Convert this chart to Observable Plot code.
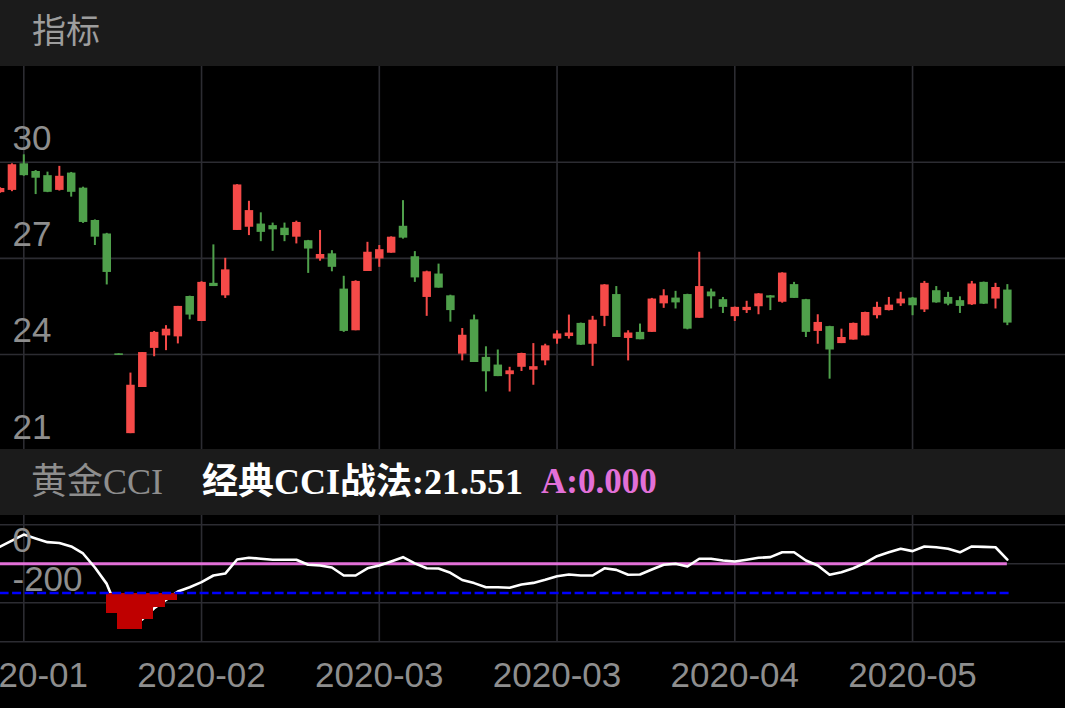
<!DOCTYPE html>
<html>
<head>
<meta charset="utf-8">
<script src="https://cdn.jsdelivr.net/npm/d3@7"></script>
<script src="https://cdn.jsdelivr.net/npm/@observablehq/plot@0.6"></script>
<style>
  html, body { margin: 0; padding: 0; background: #000; }
  #wrap { position: relative; width: 1065px; height: 708px; overflow: hidden; background: #000; }
  .hdr { position: absolute; left: 0; width: 1065px; height: 66px; background: #1b1b1b; z-index: 2; }
  .hdr span { position: absolute; white-space: nowrap; }
  #t1 { left: 32px; top: -4px; line-height: 66px; font-size: 34px; color: #9d9d9d; font-family: "Noto Sans CJK SC", sans-serif; }
  .h2t { top: 0; line-height: 66px; font-size: 35px; font-family: "Liberation Serif", "Noto Sans CJK SC", serif; }
  #main { position: absolute; top: 66px; left: 0; z-index: 1; }
  #cci { position: absolute; top: 515px; left: 0; z-index: 1; }
</style>
</head>
<body>
<div id="wrap">
  <div class="hdr" style="top:0"><span id="t1">指标</span></div>
  <div id="main"></div>
  <div class="hdr" style="top:449px">
    <span class="h2t" style="left:31px;color:#8e8e8e;font-size:36px;">黄金CCI</span>
    <span class="h2t" id="cciLabel" style="left:202px;color:#ffffff;font-weight:bold;font-size:36px;"></span>
    <span class="h2t" id="aLabel" style="left:541px;color:#e270d8;font-weight:bold;"></span>
  </div>
  <div id="cci"></div>
</div>
<script>
// ---- data ----
const open = [
  29.05,29.12,29.95,29.71,29.58,29.12,29.66,29.19,28.18,27.76,
  24.02,21.53,22.97,24.19,24.58,24.55,25.81,25.03,26.22,25.83,
  27.87,27.97,28.07,28.02,27.94,27.66,27.55,26.98,27.14,26.04,
  24.74,26.59,26.98,27.16,28.00,27.05,25.78,26.51,25.83,24.01,
  25.08,23.91,23.67,23.37,23.60,23.51,23.80,24.48,24.56,24.97,
  24.32,25.19,25.87,24.50,24.69,24.69,25.58,25.76,25.87,25.13,
  25.95,25.71,25.18,25.37,25.49,25.83,25.63,26.18,25.71,24.72,
  24.87,24.34,24.45,24.58,25.21,25.37,25.58,25.76,25.39,25.99,
  25.78,25.68,25.55,26.25,25.73,26.01];
const close = [
  29.18,29.92,29.58,29.50,29.06,29.56,29.06,28.12,27.66,26.56,
  23.97,23.04,24.06,24.69,24.79,25.50,25.23,26.25,26.12,26.64,
  29.29,28.49,27.81,27.89,27.71,28.12,27.29,27.12,26.72,24.72,
  26.28,27.19,27.27,27.66,27.63,26.39,26.58,26.07,25.37,24.60,
  23.75,23.46,23.31,23.49,24.03,23.62,24.27,24.64,24.67,24.29,
  25.07,26.17,24.53,24.67,24.46,25.73,25.83,25.61,24.79,26.12,
  25.80,25.47,25.47,25.47,25.89,25.76,26.54,25.75,24.69,25.00,
  24.14,24.53,24.97,25.31,25.47,25.54,25.73,25.52,26.22,25.61,
  25.57,25.50,26.20,25.57,26.09,24.98];
const high = [
  29.20,29.95,30.23,29.74,29.69,29.87,29.68,29.22,28.20,27.78,
  24.02,23.42,24.06,24.72,24.90,25.50,25.82,26.27,27.42,27.00,
  29.30,28.78,28.42,28.10,28.10,28.16,27.56,27.87,27.24,26.44,
  26.30,27.50,27.40,27.67,28.80,27.21,26.60,26.82,25.85,24.81,
  25.23,24.24,24.14,23.60,24.04,24.34,24.32,24.74,25.23,24.98,
  25.19,26.18,26.12,24.74,24.95,25.75,26.02,25.97,25.88,27.19,
  26.04,25.78,25.48,25.66,25.90,25.84,26.55,26.25,25.72,25.24,
  24.88,24.79,24.98,25.32,25.63,25.78,25.94,25.78,26.28,26.12,
  25.94,25.80,26.28,26.26,26.22,26.18];
const low = [
  29.03,29.08,29.56,28.99,29.05,29.10,28.91,28.09,27.40,26.17,
  23.97,21.53,22.97,23.93,24.12,24.33,25.08,25.03,26.12,25.75,
  27.87,27.71,27.52,27.22,27.52,27.45,26.53,26.91,26.58,24.69,
  24.74,26.59,26.72,27.16,27.60,26.25,25.19,26.07,25.01,23.80,
  23.75,22.83,23.31,22.83,23.47,23.04,23.65,24.32,24.48,24.28,
  23.63,24.87,24.53,23.80,24.46,24.69,25.44,25.42,24.77,25.13,
  25.42,25.28,25.03,25.28,25.24,25.37,25.60,25.75,24.53,24.32,
  23.23,24.34,24.45,24.58,25.11,25.36,25.50,25.21,25.31,25.60,
  25.52,25.28,25.53,25.56,25.42,24.90];
// 经典CCI战法 line
const cci = [
  88,119,150,130,111,107,89,53,-19,-103,
  -250,-320,-285,-228,-185,-142,-120,-94,-60,-50,
  22,31,26,21,21,21,-5,-9,-19,-60,
  -60,-23,-9,12,34,2,-23,-24,-46,-83,
  -99,-120,-120,-123,-106,-98,-82,-64,-55,-60,
  -60,-23,-31,-56,-55,-29,-5,0,-14,26,
  26,17,12,21,31,34,59,59,17,-9,
  -56,-43,-23,5,39,59,77,65,89,85,
  77,59,89,87,85,21.551];
const aValue = 0;            // A line
const cciThreshold = -150;   // dashed blue level
// red sticks below the threshold (candle index, value)
const barIdx = [10, 11, 12, 13, 14, 15];
const barVal = [-256, -337, -337, -287, -226, -188];
// ticks
const priceTicks = [21, 24, 27, 30];
const cciGrid = [200, 0, -200, -400];
const cciTicks = [0, -200];
const xTickIdx = [2, 17, 32, 47, 62, 77];
const xTickLabels = ["2020-01", "2020-02", "2020-03", "2020-03", "2020-04", "2020-05"];

// ---- styling ----
const RED = "#f54a48", GREEN = "#4fa04b", GRID = "#2c2c32", PINK = "#e270d8";
const xDomain = [0.034, 89.907];
const n = open.length;
const candles = open.map((o, i) => ({i, open: o, high: high[i], low: low[i], close: close[i]}));
const col = d => d.close >= d.open ? RED : GREEN;
const baseStyle = {background: "transparent", color: "#8e8e8e", fontFamily: "'Liberation Sans', Arial, sans-serif"};
const plain = d => String(d);

document.getElementById("cciLabel").textContent = "经典CCI战法:" + cci[n - 1].toFixed(3);
document.getElementById("aLabel").textContent = "A:" + aValue.toFixed(3);

const main = Plot.plot({
  width: 1065, height: 385,
  marginTop: 0, marginRight: 0, marginBottom: 0, marginLeft: 0,
  x: {domain: xDomain, axis: null},
  y: {domain: [20.973, 32.986], axis: null},
  style: baseStyle,
  marks: [
    Plot.ruleY(priceTicks, {stroke: GRID, strokeWidth: 1.6}),
    Plot.ruleX(xTickIdx, {stroke: GRID, strokeWidth: 1.6}),
    Plot.ruleX(candles, {x: "i", y1: "low", y2: "high", stroke: col, strokeWidth: 2}),
    Plot.ruleX(candles, {x: "i", y1: "open", y2: "close", stroke: col, strokeWidth: 8.5}),
    Plot.axisY(priceTicks, {anchor: "left", tickSize: 0, tickPadding: 0, dx: 12, dy: -12,
      textAnchor: "start", lineAnchor: "bottom", fontSize: 35, label: null, tickFormat: plain})
  ]
});
document.getElementById("main").appendChild(main);

const cciPlot = Plot.plot({
  width: 1065, height: 193,
  marginTop: 0, marginRight: 0, marginBottom: 66.7, marginLeft: 0,
  x: {domain: xDomain, axis: null},
  y: {domain: [-400, 247.7], axis: null},
  style: baseStyle,
  marks: [
    Plot.ruleY(cciGrid, {stroke: GRID, strokeWidth: 1.6}),
    Plot.ruleX(xTickIdx, {stroke: GRID, strokeWidth: 1.6}),
    Plot.ruleY([aValue], {x1: () => 0, x2: () => n - 1, stroke: PINK, strokeWidth: 3}),
    Plot.lineY(cci, {x: (d, i) => i, y: d => d, stroke: "#ffffff", strokeWidth: 2.6, strokeLinejoin: "round"}),
    Plot.rect(barIdx, {x1: d => d - 1.06, x2: d => d - 0.02, y1: () => cciThreshold, y2: (d, j) => barVal[j],
      fill: "#bf0000", shapeRendering: "crispEdges"}),
    Plot.ruleY([cciThreshold], {x1: () => 0, x2: () => n - 0.6, stroke: "#0000ff", strokeWidth: 2.5, strokeDasharray: "9,3.5"}),
    Plot.axisY(cciTicks, {anchor: "left", tickSize: 0, tickPadding: 0, dx: 12, dy: -12,
      textAnchor: "start", lineAnchor: "bottom", fontSize: 35, label: null, tickFormat: plain}),
    Plot.axisX(xTickIdx, {anchor: "bottom", tickSize: 0, tickPadding: 20, fontSize: 35, label: null,
      tickFormat: d => xTickLabels[xTickIdx.indexOf(d)]})
  ]
});
document.getElementById("cci").appendChild(cciPlot);
</script>
</body>
</html>
